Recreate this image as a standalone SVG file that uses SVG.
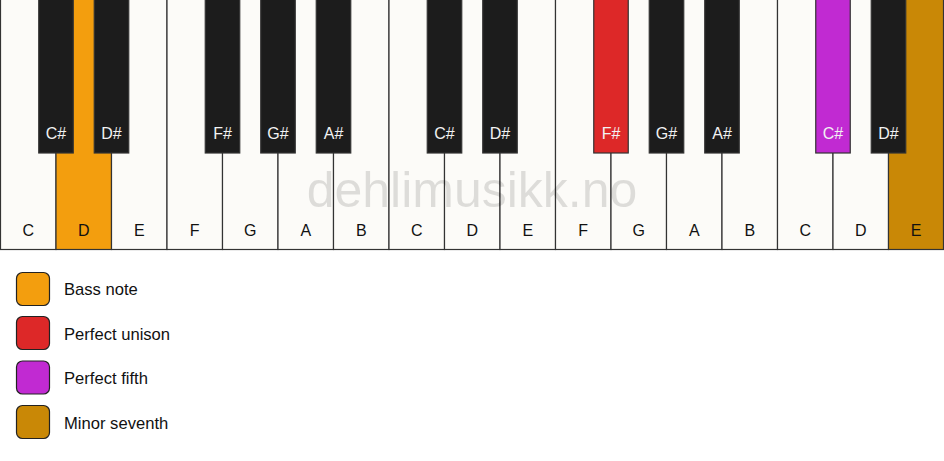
<svg xmlns="http://www.w3.org/2000/svg" width="944" height="461" viewBox="0 0 944 461">
<style>
.w{fill:#fcfbf8;stroke:#333;stroke-width:1.2}
.b{fill:#1c1c1c;stroke:#333;stroke-width:1.2}
.wl{font-family:"Liberation Sans",Arial,sans-serif;font-size:16px;fill:#111;text-anchor:middle}
.bl{font-family:"Liberation Sans",Arial,sans-serif;font-size:16px;fill:#f2f2f2;text-anchor:middle}
.lg{font-family:"Liberation Sans",Arial,sans-serif;font-size:16.6px;fill:#111}
.sw{stroke:#222;stroke-width:1.2}
</style>
<rect width="944" height="461" fill="#ffffff"/>
<g id="white-keys">
<g id="wk-C1"><rect class="w" x="0.5" y="-1" width="55.5" height="250.5"/><text class="wl" x="28.25" y="236">C</text></g>
<g id="wk-D1"><rect class="w" x="56" y="-1" width="55.5" height="250.5" style="fill:#f39e0e"/><text class="wl" x="83.75" y="236">D</text></g>
<g id="wk-E1"><rect class="w" x="111.5" y="-1" width="55.5" height="250.5"/><text class="wl" x="139.25" y="236">E</text></g>
<g id="wk-F1"><rect class="w" x="167" y="-1" width="55.5" height="250.5"/><text class="wl" x="194.75" y="236">F</text></g>
<g id="wk-G1"><rect class="w" x="222.5" y="-1" width="55.5" height="250.5"/><text class="wl" x="250.25" y="236">G</text></g>
<g id="wk-A1"><rect class="w" x="278" y="-1" width="55.5" height="250.5"/><text class="wl" x="305.75" y="236">A</text></g>
<g id="wk-B1"><rect class="w" x="333.5" y="-1" width="55.5" height="250.5"/><text class="wl" x="361.25" y="236">B</text></g>
<g id="wk-C2"><rect class="w" x="389" y="-1" width="55.5" height="250.5"/><text class="wl" x="416.75" y="236">C</text></g>
<g id="wk-D2"><rect class="w" x="444.5" y="-1" width="55.5" height="250.5"/><text class="wl" x="472.25" y="236">D</text></g>
<g id="wk-E2"><rect class="w" x="500" y="-1" width="55.5" height="250.5"/><text class="wl" x="527.75" y="236">E</text></g>
<g id="wk-F2"><rect class="w" x="555.5" y="-1" width="55.5" height="250.5"/><text class="wl" x="583.25" y="236">F</text></g>
<g id="wk-G2"><rect class="w" x="611" y="-1" width="55.5" height="250.5"/><text class="wl" x="638.75" y="236">G</text></g>
<g id="wk-A2"><rect class="w" x="666.5" y="-1" width="55.5" height="250.5"/><text class="wl" x="694.25" y="236">A</text></g>
<g id="wk-B2"><rect class="w" x="722" y="-1" width="55.5" height="250.5"/><text class="wl" x="749.75" y="236">B</text></g>
<g id="wk-C3"><rect class="w" x="777.5" y="-1" width="55.5" height="250.5"/><text class="wl" x="805.25" y="236">C</text></g>
<g id="wk-D3"><rect class="w" x="833" y="-1" width="55.5" height="250.5"/><text class="wl" x="860.75" y="236">D</text></g>
<g id="wk-E3"><rect class="w" x="888.5" y="-1" width="55" height="250.5" style="fill:#c98806"/><text class="wl" x="916" y="236">E</text></g>
</g>
<text x="472" y="207" font-family="Liberation Sans,Arial,sans-serif" font-size="50" text-anchor="middle" fill="#000" fill-opacity="0.12">dehlimusikk.no</text>
<g id="black-keys">
<g id="bk-Cs1"><rect class="b" x="38.75" y="-1" width="34.5" height="154"/><text class="bl" x="56" y="139">C#</text></g>
<g id="bk-Ds1"><rect class="b" x="94.25" y="-1" width="34.5" height="154"/><text class="bl" x="111.5" y="139">D#</text></g>
<g id="bk-Fs1"><rect class="b" x="205.25" y="-1" width="34.5" height="154"/><text class="bl" x="222.5" y="139">F#</text></g>
<g id="bk-Gs1"><rect class="b" x="260.75" y="-1" width="34.5" height="154"/><text class="bl" x="278" y="139">G#</text></g>
<g id="bk-As1"><rect class="b" x="316.25" y="-1" width="34.5" height="154"/><text class="bl" x="333.5" y="139">A#</text></g>
<g id="bk-Cs2"><rect class="b" x="427.25" y="-1" width="34.5" height="154"/><text class="bl" x="444.5" y="139">C#</text></g>
<g id="bk-Ds2"><rect class="b" x="482.75" y="-1" width="34.5" height="154"/><text class="bl" x="500" y="139">D#</text></g>
<g id="bk-Fs2"><rect class="b" x="593.75" y="-1" width="34.5" height="154" style="fill:#dd2828"/><text class="bl" x="611" y="139">F#</text></g>
<g id="bk-Gs2"><rect class="b" x="649.25" y="-1" width="34.5" height="154"/><text class="bl" x="666.5" y="139">G#</text></g>
<g id="bk-As2"><rect class="b" x="704.75" y="-1" width="34.5" height="154"/><text class="bl" x="722" y="139">A#</text></g>
<g id="bk-Cs3"><rect class="b" x="815.75" y="-1" width="34.5" height="154" style="fill:#c12ad2"/><text class="bl" x="833" y="139">C#</text></g>
<g id="bk-Ds3"><rect class="b" x="871.25" y="-1" width="34.5" height="154"/><text class="bl" x="888.5" y="139">D#</text></g>
</g>
<g id="legend">
<g id="lg-bass"><rect class="sw" x="16.5" y="272.5" width="33" height="33" rx="6" fill="#f39e0e"/><text class="lg" x="64" y="295">Bass note</text></g>
<g id="lg-unison"><rect class="sw" x="16.5" y="316.5" width="33" height="33" rx="6" fill="#dd2828"/><text class="lg" x="64" y="339.5">Perfect unison</text></g>
<g id="lg-fifth"><rect class="sw" x="16.5" y="361" width="33" height="33" rx="6" fill="#c12ad2"/><text class="lg" x="64" y="384">Perfect fifth</text></g>
<g id="lg-seventh"><rect class="sw" x="16.5" y="405.5" width="33" height="33" rx="6" fill="#c98806"/><text class="lg" x="64" y="428.5">Minor seventh</text></g>
</g>
</svg>
